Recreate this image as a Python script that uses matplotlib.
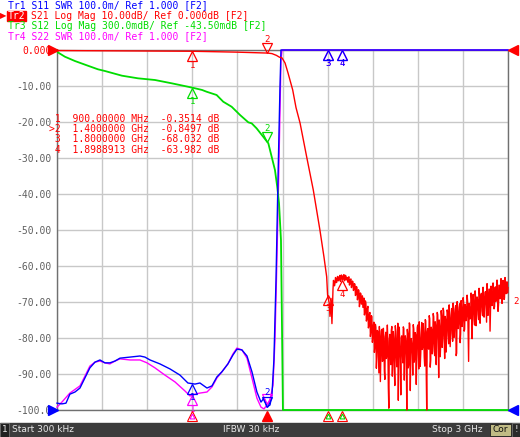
import numpy as np
import matplotlib
matplotlib.use('Agg')
import matplotlib.pyplot as plt
from matplotlib.patches import Rectangle
from matplotlib.transforms import offset_copy

# ---- trace data ----
# Tr1 S11, SWR
s11_freq = [0.0003, 0.033, 0.060, 0.086, 0.120, 0.153, 0.186, 0.219, 0.253, 0.286,
            0.319, 0.352, 0.386, 0.419, 0.486, 0.552, 0.585, 0.619, 0.685, 0.752,
            0.818, 0.871, 0.918, 0.951, 0.998, 1.031, 1.064, 1.097, 1.137, 1.171,
            1.197, 1.230, 1.264, 1.297, 1.330, 1.357, 1.377, 1.397, 1.417, 1.430,
            1.443, 1.457, 1.470, 1.483, 1.490, 1.503, 3.000]
s11_swr = [1.019, 1.017, 1.019, 1.044, 1.050, 1.061, 1.089, 1.117, 1.133, 1.139,
           1.131, 1.131, 1.136, 1.144, 1.147, 1.150, 1.147, 1.139, 1.128, 1.114,
           1.097, 1.075, 1.072, 1.075, 1.061, 1.067, 1.092, 1.106, 1.128, 1.153,
           1.169, 1.167, 1.150, 1.106, 1.050, 1.022, 1.033, 1.008, 1.014, 1.042,
           1.139, 1.361, 1.639, 1.889, 2.000, 2.600, 3.200]

# Tr4 S22, SWR
s22_freq = [0.0003, 0.033, 0.086, 0.153, 0.186, 0.219, 0.253, 0.286, 0.319, 0.352,
            0.386, 0.419, 0.486, 0.552, 0.599, 0.652, 0.718, 0.785, 0.851, 0.885,
            0.918, 0.951, 0.998, 1.031, 1.064, 1.097, 1.137, 1.171, 1.197, 1.230,
            1.264, 1.297, 1.330, 1.357, 1.377, 1.397, 1.417, 1.437, 1.450, 1.463,
            1.477, 1.490, 1.497, 3.000]
s22_swr = [1.008, 1.022, 1.047, 1.067, 1.094, 1.122, 1.133, 1.136, 1.131, 1.128,
           1.136, 1.142, 1.139, 1.139, 1.131, 1.117, 1.097, 1.078, 1.053, 1.039,
           1.044, 1.047, 1.050, 1.064, 1.089, 1.106, 1.128, 1.156, 1.172, 1.167,
           1.144, 1.089, 1.033, 1.008, 1.003, 1.014, 1.028, 1.069, 1.194, 1.417,
           1.694, 1.972, 2.028, 3.000]

# Tr3 S12, dB
s12_freq = [0.0003, 0.005, 0.053, 0.120, 0.206, 0.273, 0.319, 0.432, 0.539, 0.652,
            0.765, 0.871, 0.900, 0.918, 0.965, 0.996, 1.062, 1.106, 1.162, 1.218,
            1.273, 1.295, 1.328, 1.372, 1.406, 1.428, 1.450, 1.465, 1.477, 1.490,
            1.497, 1.503, 1.520, 3.000]
s12_db = [-43.500, -43.519, -43.556, -43.592, -43.631, -43.661, -43.675, -43.714, -43.736, -43.750,
          -43.778, -43.806, -43.814, -43.819, -43.833, -43.848, -43.875, -43.931, -43.973, -44.042,
          -44.103, -44.111, -44.153, -44.223, -44.278, -44.389, -44.500, -44.639, -44.775, -45.083,
          -45.833, -46.500, -47.000, -47.000]

# Tr2 S21, dB - passband and skirt
s21_freq = [0.0003, 0.2, 0.5, 0.9, 1.2, 1.4, 1.43, 1.46, 1.48, 1.497, 1.517, 1.537,
            1.568, 1.590, 1.617, 1.661, 1.705, 1.749, 1.776, 1.794, 1.8, 1.811,
            1.816, 1.823, 1.829]
s21_db = [-0.15, -0.2, -0.25, -0.3514, -0.6, -0.8497, -1.0, -1.5, -2.0, -2.2, -3.6, -6.4,
          -11.1, -16.0, -20.3, -29.7, -38.9, -50.0, -57.5, -63.0, -68.032, -70.3,
          -74.0, -69.0, -76.0]
# Tr2 S21, dB - stopband, even sweep points 1.836 .. 3 GHz
s21_stop_a = [
    -66.5, -65.0, -64.8, -63.5, -64.2, -63.0, -63.8, -62.6, -63.5, -62.8,
    -63.6, -62.4, -63.9, -62.9, -63.2, -64.5, -63.0, -64.8, -63.6, -65.2,
    -64.4, -66.3, -65.1, -67.8, -66.0, -68.5, -66.9, -70.2, -67.8, -69.4,
    -71.5, -68.9, -72.8, -70.4, -74.6, -71.2, -76.5, -72.9, -78.3, -74.1,
    -79.8, -75.6, -82.4, -77.0, -85.1, -78.3, -89.7, -79.5, -84.2, -77.6,
    -86.3, -80.1, -91.5, -78.4, -84.8, -81.2, -99.5, -79.0, -87.4, -76.8,
    -85.6, -80.3, -93.2, -78.1, -88.0, -75.9, -84.7, -82.2, -95.8, -79.4,
    -86.9, -77.3, -83.5, -80.6, -100.0, -78.8, -87.2, -76.1, -84.9, -81.7,
    -90.3, -77.5, -85.4, -79.2, -83.0, -76.4, -88.6, -80.0, -84.3, -75.7,
    -82.6, -78.9, -87.8, -75.2, -100.0, -77.4, -83.1, -74.6, -86.2, -78.0,
    -81.5, -74.1, -84.9, -76.8, -80.3, -73.5, -91.0, -77.2, -82.0, -74.0,
    -79.4, -72.6, -85.7, -75.1, -78.2, -73.0, -81.6, -74.4, -77.5, -71.8,
    -80.9, -73.2, -76.3, -71.0, -84.2, -72.8, -75.6, -70.5, -78.9, -72.1,
    -74.8, -70.2, -77.6, -71.4, -73.5, -69.8, -86.5, -71.9, -74.2, -69.3,
    -72.7, -70.0, -76.4, -68.7, -71.8, -69.5, -74.9, -68.2, -71.2, -67.6,
    -73.8, -68.9, -70.5, -67.1, -75.6, -68.4, -70.2, -66.5, -72.4, -67.9,
    -69.7, -66.2, -71.3, -65.8, -68.5, -66.9, -70.8, -65.4, -68.0, -64.8,
    -67.6, -65.2, -68.9, -64.6, -66.8, -67.5]
# odd sweep points (in between)
s21_stop_b = [
    -64.0, -65.5, -63.2, -64.6, -62.9, -64.1, -63.0, -64.3, -62.5, -63.9,
    -62.7, -64.1, -62.6, -63.8, -64.0, -63.1, -65.3, -63.7, -66.0, -64.2,
    -66.8, -64.9, -68.2, -65.7, -69.4, -66.6, -71.3, -67.5, -70.6, -68.3,
    -70.1, -73.6, -69.7, -75.3, -71.8, -77.2, -73.4, -79.6, -73.8, -81.2,
    -76.5, -84.0, -76.2, -88.4, -77.9, -83.6, -76.8, -92.1, -78.0, -86.5,
    -77.3, -89.2, -79.6, -85.7, -76.4, -93.8, -80.5, -84.1, -77.9, -90.6,
    -78.2, -88.9, -76.6, -84.5, -80.9, -97.3, -77.0, -86.1, -79.8, -83.4,
    -76.9, -91.7, -79.4, -85.8, -77.6, -88.3, -75.8, -94.6, -80.2, -84.0,
    -76.3, -86.7, -78.5, -92.9, -77.1, -84.6, -75.5, -87.9, -79.0, -83.2,
    -76.0, -85.3, -74.9, -89.6, -78.3, -82.7, -73.8, -88.1, -77.0, -84.4,
    -73.2, -83.7, -75.5, -87.4, -72.9, -80.8, -75.0, -85.2, -72.4, -82.6,
    -71.7, -80.5, -74.0, -83.9, -72.2, -79.3, -70.8, -82.4, -73.6, -78.7,
    -70.3, -79.8, -72.0, -84.9, -69.9, -77.4, -71.5, -81.3, -69.6, -76.8,
    -68.8, -78.1, -70.7, -75.2, -68.1, -77.9, -70.4, -74.7, -67.5, -80.2,
    -67.9, -74.8, -66.9, -76.6, -68.6, -73.4, -66.2, -75.9, -67.8, -72.5,
    -65.9, -74.2, -67.3, -71.6, -64.9, -73.7, -66.4, -78.1, -65.6, -71.0,
    -64.7, -71.9, -66.0, -69.8, -63.9, -72.6, -65.3, -69.1, -63.5, -70.4,
    -64.0, -69.3, -63.2, -67.7, -64.4, -66.0]
s21_stop_db = np.column_stack([s21_stop_a, s21_stop_b]).ravel()
s21_stop_freq = np.linspace(1.836, 3.0, len(s21_stop_db))

# markers (GHz)
mk_freq = [0.9, 1.4, 1.8, 1.8988913]
mk_s21 = [-0.3514, -0.8497, -68.032, -63.982]
mk_text = [' 1  900.00000 MHz  -0.3514 dB',
           '>2  1.4000000 GHz  -0.8497 dB',
           ' 3  1.8000000 GHz  -68.032 dB',
           ' 4  1.8988913 GHz  -63.982 dB']

ytick_vals = [0, -10, -20, -30, -40, -50, -60, -70, -80, -90, -100]
ytick_labels = ['0.000', '-10.00', '-20.00', '-30.00', '-40.00', '-50.00',
                '-60.00', '-70.00', '-80.00', '-90.00', '-100.0']

BLUE = '#0000ff'
RED = '#ff0000'
GREEN = '#00dd00'
MAG = '#ff00ff'
MONO = 'DejaVu Sans Mono'

W, H = 520, 437
CHW = 0.602 * 7 * 100 / 72   # mono char width in px at 7 pt


# convert each trace to screen grid units (0 top, -100 bottom)
def swr_disp(s):
    return np.clip(-100 + (np.asarray(s) - 1.0) * 100, -100, 0)

def s12_disp(d):
    return np.clip((np.asarray(d) + 43.5) / 0.3 * 10, -100, 0)

def s21_disp(d):
    return np.clip(np.asarray(d), -100, 0)


fig = plt.figure(figsize=(W / 100, H / 100), dpi=100)
fig.patch.set_facecolor('white')
ax = fig.add_axes([57 / W, 27 / H, 451 / W, 360 / H])
ax.set_xlim(0.0003, 3.0)
ax.set_ylim(-100, 0)
ax.set_xticks(np.linspace(0.0003, 3.0, 11))
ax.set_xticklabels([])
ax.set_yticks(ytick_vals)
ax.set_yticklabels(ytick_labels, family=MONO, fontsize=7, color='#606060')
ax.get_yticklabels()[0].set_color(RED)
ax.tick_params(length=0, pad=4)
ax.grid(True, color='#c8c8c8', lw=1)
for sp in ax.spines.values():
    sp.set_color('#707070')
    sp.set_linewidth(1)

# traces
ax.plot(s22_freq, swr_disp(s22_swr), color=MAG, lw=1.0, clip_on=False, zorder=3)
ax.plot(s12_freq, s12_disp(s12_db), color=GREEN, lw=1.3, clip_on=False, zorder=3)
ax.plot(s11_freq, swr_disp(s11_swr), color=BLUE, lw=1.0, clip_on=False, zorder=4)
red_f = list(s21_freq) + list(s21_stop_freq)
red_v = list(s21_db) + list(s21_stop_db)
ax.plot(red_f, s21_disp(red_v), color=RED, lw=1.0, clip_on=False, zorder=5)


def marker(f, v, label, color, above=False, z=6):
    d = 1 if above else -1
    tr = offset_copy(ax.transData, fig=fig, x=0, y=d * 5, units='dots')
    ax.plot([f], [v], marker='v' if above else '^', ms=6.5, mfc='none', mec=color,
            mew=0.9, transform=tr, clip_on=False, zorder=z)
    if label:
        tr2 = offset_copy(ax.transData, fig=fig, x=0, y=d * 14, units='dots')
        ax.text(f, v, label, transform=tr2, ha='center', va='center', color=color,
                fontsize=6.5, family=MONO, zorder=z)


s11_d = swr_disp(s11_swr)
s22_d = swr_disp(s22_swr)
s12_d = s12_disp(s12_db)
for i, f in enumerate(mk_freq):
    lab = str(i + 1)
    act = (i == 1)
    marker(f, np.interp(f, s22_freq, s22_d), '' if act else lab, MAG, above=act)
    marker(f, np.interp(f, s11_freq, s11_d), lab, BLUE, above=act)
    if i < 2:
        marker(f, np.interp(f, s12_freq, s12_d), lab, GREEN, above=act)
    marker(f, mk_s21[i], lab, RED, above=act)

# stimulus indicators under the axis
base = offset_copy(ax.transData, fig=fig, x=0, y=-6, units='dots')
inner_cols = [MAG, RED, GREEN, GREEN]
for i, f in enumerate(mk_freq):
    if i == 1:
        ax.plot([f], [-100], marker='^', ms=7, mfc=RED, mec=RED, transform=base, clip_on=False, zorder=7)
    else:
        ax.plot([f], [-100], marker='^', ms=7, mfc='white', mec=RED, mew=0.8, transform=base, clip_on=False, zorder=7)
        ax.plot([f], [-100], marker='^', ms=3.5, mfc='none', mec=inner_cols[i], mew=0.8, transform=base, clip_on=False, zorder=7)

# reference position pointers
lt = offset_copy(ax.transData, fig=fig, x=-4, y=0, units='dots')
rt = offset_copy(ax.transData, fig=fig, x=5, y=0, units='dots')
ax.plot([0.0003], [0], marker='>', ms=7, color=RED, transform=lt, clip_on=False, zorder=8)
ax.plot([0.0003], [-100], marker='>', ms=7, color=BLUE, transform=lt, clip_on=False, zorder=8)
ax.plot([3.0], [0], marker='<', ms=7, color=RED, transform=rt, clip_on=False, zorder=8)
ax.plot([3.0], [-100], marker='<', ms=7, color=BLUE, transform=rt, clip_on=False, zorder=8)

# end-of-trace label
et = offset_copy(ax.transData, fig=fig, x=5, y=-14, units='dots')
ax.text(3.0, s21_stop_db[-1], '2', transform=et, color=RED, fontsize=6.5, family=MONO,
        ha='left', va='center')

# marker table
for i, t in enumerate(mk_text):
    fig.text(49 / W, 1 - (119 + i * 10.2) / H, t, color=RED, fontsize=7, family=MONO,
             va='center', ha='left')


def ftext(x, y, s, **kw):
    fig.text(x / W, 1 - y / H, s, va='center', **kw)


# header
ftext(8, 5.5, 'Tr1 S11 SWR 100.0m/ Ref 1.000 [F2]', color=BLUE, fontsize=7, family=MONO)
fig.patches.append(Rectangle((7 / W, 1 - 21 / H), 19 / W, 10.5 / H, transform=fig.transFigure,
                             color=RED, zorder=1))
ftext(8, 15.8, 'Tr2', color='white', fontsize=7, family=MONO, zorder=2)
ftext(8 + 4 * CHW, 15.8, 'S21 Log Mag 10.00dB/ Ref 0.000dB [F2]', color=RED, fontsize=7, family=MONO)
ftext(0, 15.8, '\u25b6', color=RED, fontsize=6, family='DejaVu Sans')
ftext(8, 25.8, 'Tr3 S12 Log Mag 300.0mdB/ Ref -43.50mdB [F2]', color=GREEN, fontsize=7, family=MONO)
ftext(8, 35.8, 'Tr4 S22 SWR 100.0m/ Ref 1.000 [F2]', color=MAG, fontsize=7, family=MONO)

# status bar
fig.patches.append(Rectangle((0, 0), 1, 14 / H, transform=fig.transFigure, color='#3c3c3c', zorder=0))
fig.patches.append(Rectangle((0, 0), 9 / W, 14 / H, transform=fig.transFigure,
                             facecolor='#202020', edgecolor='#707070', lw=0.6, zorder=1))
fig.patches.append(Rectangle((490 / W, 1 / H), 21 / W, 12 / H, transform=fig.transFigure,
                             facecolor='#c0bb85', edgecolor='#202020', lw=0.6, zorder=1))
fig.patches.append(Rectangle((512 / W, 0), 8 / W, 14 / H, transform=fig.transFigure,
                             facecolor='#2a2a2a', edgecolor='#707070', lw=0.6, zorder=1))
ftext(2, 430, '1', color='#e8e8e8', fontsize=6.5, family='DejaVu Sans', zorder=3)
ftext(12, 430, 'Start 300 kHz', color='#e8e8e8', fontsize=6.5, family='DejaVu Sans', zorder=3)
ftext(251, 430, 'IFBW 30 kHz', color='#e8e8e8', fontsize=6.5, family='DejaVu Sans', ha='center', zorder=3)
ftext(483, 430, 'Stop 3 GHz', color='#e8e8e8', fontsize=6.5, family='DejaVu Sans', ha='right', zorder=3)
ftext(500.5, 430, 'Cor', color='#101010', fontsize=6.5, family='DejaVu Sans', ha='center', zorder=3)
ftext(516, 430, '!', color='#e8e8e8', fontsize=6.5, family='DejaVu Sans', ha='center', zorder=3)

fig.savefig('out.png', dpi=100, facecolor='white')
